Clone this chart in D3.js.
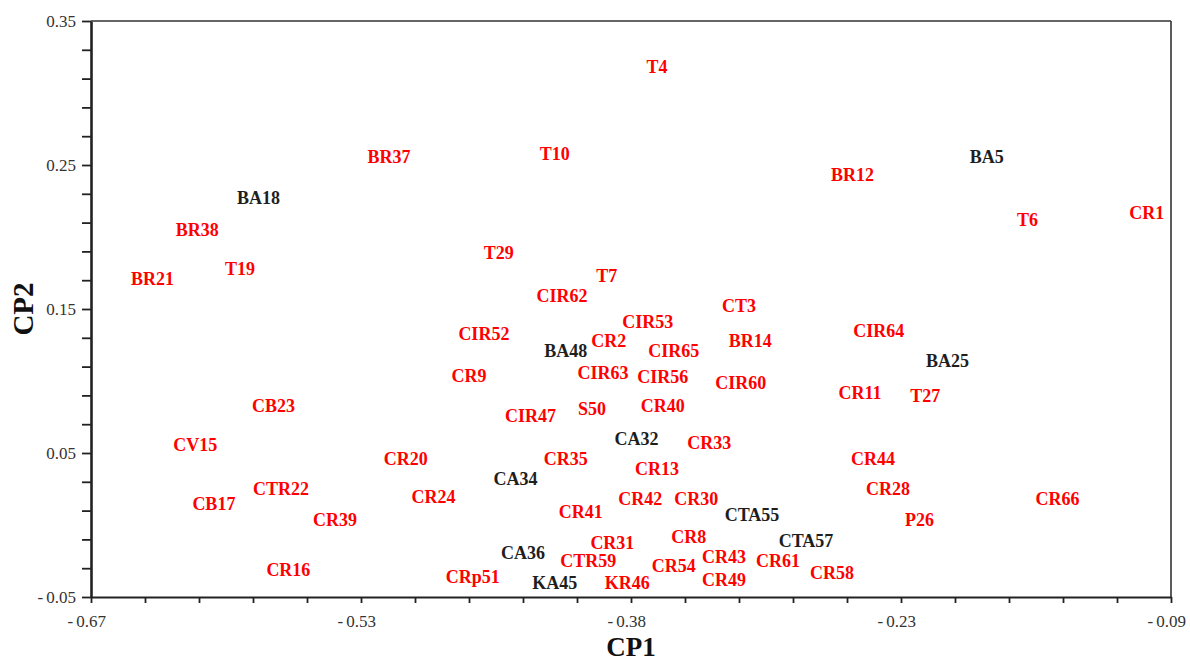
<!DOCTYPE html>
<html>
<head>
<meta charset="utf-8">
<script src="https://cdn.jsdelivr.net/npm/d3@7"></script>
<style>
  html, body { margin: 0; padding: 0; background: #fff; }
  svg { display: block; }
</style>
</head>
<body>
<svg id="chart" width="1190" height="663"></svg>
<script>
// Sample names, their principal-component scores and their group colour
const names = ["T4","BR37","T10","BA5","BR12","BA18","T6","CR1","BR38","T29",
  "BR21","T19","T7","CIR62","CT3","CIR53","CIR64","CIR52","CR2","BR14",
  "BA48","CIR65","BA25","CR9","CIR63","CIR56","CIR60","CR11","T27","CB23",
  "S50","CR40","CIR47","CA32","CR33","CV15","CR20","CR35","CR44","CR13",
  "CA34","CTR22","CR28","CR24","CR42","CR30","CR66","CB17","CR41","CTA55",
  "CR39","P26","CR8","CR31","CTA57","CA36","CR43","CTR59","CR61","CR54",
  "CR16","CR58","CRp51","CR49","KA45","KR46"];
const cp1 = [-0.366,-0.510,-0.421,-0.189,-0.261,-0.580,-0.167,-0.103,-0.613,-0.451,
  -0.637,-0.590,-0.393,-0.417,-0.322,-0.371,-0.247,-0.459,-0.392,-0.316,
  -0.415,-0.357,-0.210,-0.467,-0.395,-0.363,-0.321,-0.257,-0.222,-0.572,
  -0.401,-0.363,-0.434,-0.377,-0.338,-0.614,-0.501,-0.415,-0.250,-0.366,
  -0.442,-0.568,-0.242,-0.486,-0.375,-0.345,-0.151,-0.604,-0.407,-0.315,
  -0.539,-0.225,-0.349,-0.390,-0.286,-0.438,-0.330,-0.403,-0.301,-0.357,
  -0.564,-0.272,-0.465,-0.330,-0.421,-0.382];
const cp2 = [0.318,0.256,0.258,0.256,0.243,0.227,0.212,0.217,0.205,0.189,
  0.171,0.178,0.173,0.159,0.152,0.141,0.135,0.133,0.128,0.128,
  0.121,0.121,0.114,0.104,0.106,0.103,0.099,0.092,0.090,0.083,
  0.081,0.083,0.076,0.060,0.057,0.056,0.046,0.046,0.046,0.039,
  0.032,0.025,0.025,0.020,0.018,0.018,0.018,0.015,0.009,0.007,
  0.004,0.004,-0.008,-0.012,-0.011,-0.019,-0.022,-0.025,-0.025,-0.028,
  -0.031,-0.033,-0.036,-0.038,-0.040,-0.040];
// Accessions drawn in black; every other name is drawn in red
const blackGroup = ["BA18","BA5","BA48","BA25","CA32","CA34","CTA55","CTA57","CA36","KA45"];

// Axis extents and tick labels
const xDomain = [-0.67, -0.09];
const yDomain = [-0.05, 0.35];
const xMajorTicks = [-0.67, -0.525, -0.38, -0.235, -0.09];
const xTickLabels = ["-0.67", "-0.53", "-0.38", "-0.23", "-0.09"];
const yMajorTicks = [-0.05, 0.05, 0.15, 0.25, 0.35];
const yTickLabels = ["-0.05", "0.05", "0.15", "0.25", "0.35"];

const svg = d3.select("#chart");
const plotL = 91, plotR = 1171, plotT = 21, plotB = 597;
const x = d3.scaleLinear().domain(xDomain).range([plotL, plotR]);
const y = d3.scaleLinear().domain(yDomain).range([plotB, plotT]);

const serif = "'Liberation Serif', 'Times New Roman', serif";
const axisColor = "#222";

// Frame: top and right edges
svg.append("line").attr("x1", plotL).attr("x2", plotR).attr("y1", plotT).attr("y2", plotT)
  .attr("stroke", "#333").attr("stroke-width", 1.6);
svg.append("line").attr("x1", plotR).attr("x2", plotR).attr("y1", plotT).attr("y2", plotB)
  .attr("stroke", "#333").attr("stroke-width", 1.6);

// X axis: 20 equal intervals, labelled every fifth tick
const xStep = (xDomain[1] - xDomain[0]) / 20;
const xAllTicks = d3.range(21).map(i => xDomain[0] + i * xStep);
const xAxis = d3.axisBottom(x).tickValues(xAllTicks).tickSize(6).tickSizeOuter(0).tickFormat("");
const gx = svg.append("g").attr("transform", `translate(0,${plotB})`).call(xAxis);
gx.select(".domain").attr("stroke", axisColor).attr("stroke-width", 2.2);
gx.selectAll(".tick line").attr("stroke", axisColor).attr("stroke-width", 1.8);

// Y axis: minor ticks every 0.02
const yStep = 0.02;
const yAllTicks = d3.range(21).map(i => yDomain[0] + i * yStep);
const yAxis = d3.axisLeft(y).tickValues(yAllTicks).tickSize(9).tickSizeOuter(0).tickFormat("");
const gy = svg.append("g").attr("transform", `translate(${plotL},0)`).call(yAxis);
gy.select(".domain").attr("stroke", axisColor).attr("stroke-width", 2.6);
gy.selectAll(".tick line").attr("stroke", axisColor).attr("stroke-width", 1.8);

// Tick labels: the number is centred on the tick, a hyphen hangs to its left
const tickFont = 17;
xMajorTicks.forEach((v, i) => {
  const lab = xTickLabels[i];
  const neg = lab.startsWith("-");
  const num = neg ? lab.slice(1) : lab;
  const t = svg.append("text")
    .attr("x", x(v)).attr("y", 627)
    .attr("text-anchor", "middle")
    .attr("font-family", serif).attr("font-size", tickFont).attr("fill", "#333")
    .text(num);
  if (neg) {
    const w = t.node().getComputedTextLength();
    svg.append("text")
      .attr("x", x(v) - w / 2 - 3).attr("y", 627)
      .attr("text-anchor", "end")
      .attr("font-family", serif).attr("font-size", tickFont).attr("fill", "#333")
      .text("-");
  }
});
yMajorTicks.forEach((v, i) => {
  const lab = yTickLabels[i];
  const neg = lab.startsWith("-");
  const num = neg ? lab.slice(1) : lab;
  const t = svg.append("text")
    .attr("x", 76).attr("y", y(v)).attr("dy", "0.35em")
    .attr("text-anchor", "end")
    .attr("font-family", serif).attr("font-size", tickFont).attr("fill", "#333")
    .text(num);
  if (neg) {
    const w = t.node().getComputedTextLength();
    svg.append("text")
      .attr("x", 76 - w - 3).attr("y", y(v)).attr("dy", "0.35em")
      .attr("text-anchor", "end")
      .attr("font-family", serif).attr("font-size", tickFont).attr("fill", "#333")
      .text("-");
  }
});

// Axis titles
svg.append("text")
  .attr("x", (plotL + plotR) / 2).attr("y", 656)
  .attr("text-anchor", "middle")
  .attr("font-family", serif).attr("font-weight", "bold").attr("font-size", 27).attr("fill", "#111")
  .text("CP1");
svg.append("text")
  .attr("transform", `translate(33,${(plotT + plotB) / 2}) rotate(-90)`)
  .attr("text-anchor", "middle")
  .attr("font-family", serif).attr("font-weight", "bold").attr("font-size", 29).attr("fill", "#111")
  .text("CP2");

// Sample labels placed at their scores
const samples = names.map((n, i) => ({ name: n, pc1: cp1[i], pc2: cp2[i] }));
svg.append("g").selectAll("text")
  .data(samples)
  .join("text")
  .attr("x", d => x(d.pc1))
  .attr("y", d => y(d.pc2))
  .attr("dy", "0.35em")
  .attr("text-anchor", "middle")
  .attr("font-family", serif)
  .attr("font-weight", "bold")
  .attr("font-size", 18)
  .attr("fill", d => blackGroup.includes(d.name) ? "#1e1e1e" : "#ff0000")
  .text(d => d.name);
</script>
</body>
</html>
